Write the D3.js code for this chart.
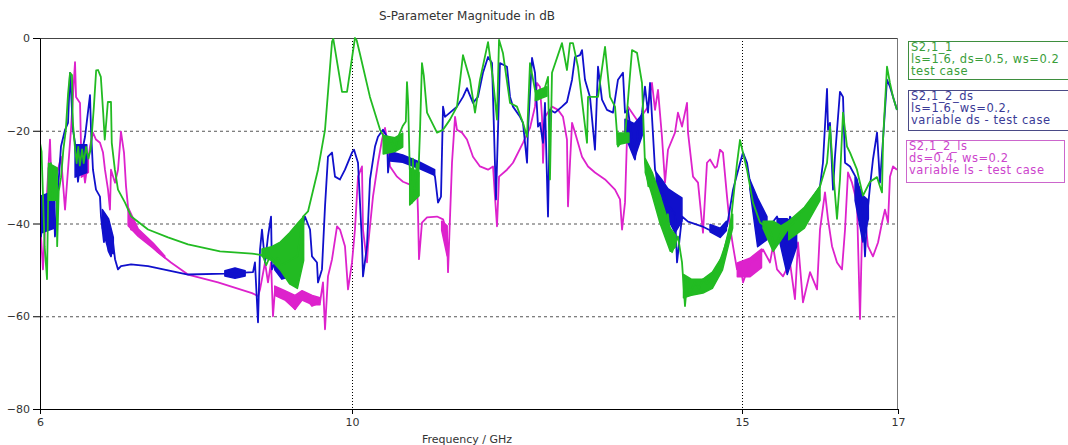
<!DOCTYPE html>
<html><head><meta charset="utf-8">
<script src="https://cdn.jsdelivr.net/npm/d3@7"></script>
<style>html,body{margin:0;padding:0;background:#fff}svg{display:block}</style>
</head><body>
<svg id="chart" width="1068" height="445"></svg>
<script>
const xTicks = [6, 10, 15, 17];
const yTicks = [0, -20, -40, -60, -80];
const xGrid = [10, 15];
const yGrid = [-20, -40, -60];
const seriesNames = ["S2,1_1", "S2,1_2_ds", "S2,1_2_ls"];

// S2,1_1 : [GHz, dB]
const s211 = [[6.00,-22.6],[6.02,-24.5],[6.04,-35],[6.06,-45],[6.09,-52.0],[6.10,-40],[6.11,-28],[6.13,-34],[6.14,-27],[6.16,-35],[6.18,-28],[6.19,-34],[6.21,-29],[6.22,-44.9],[6.24,-33],[6.27,-30],[6.30,-24],[6.33,-20],[6.36,-12],[6.385,-7.5],[6.41,-8],[6.42,-18],[6.45,-24],[6.47,-27],[6.49,-23.5],[6.51,-27.5],[6.54,-24],[6.56,-27],[6.59,-23.5],[6.62,-26],[6.65,-24],[6.69,-15],[6.72,-7],[6.744,-6.9],[6.78,-8.4],[6.81,-16.1],[6.83,-21.9],[6.85,-18],[6.87,-13.8],[6.91,-13.8],[6.92,-22.6],[6.96,-28.4],[7.00,-32.7],[7.09,-35.5],[7.17,-38.5],[7.385,-41.3],[7.641,-43.0],[7.897,-44.5],[8.308,-46.0],[8.718,-46.5],[8.846,-46.8],[8.87,-47.5],[8.90,-49],[8.95,-47],[9.0,-48],[9.05,-47.5],[9.1,-49],[9.2,-48],[9.3,-47],[9.372,-38.5],[9.436,-37.4],[9.564,-28.4],[9.654,-19.8],[9.744,-0.8],[9.76,-0.2],[9.872,-11.6],[9.936,-11.6],[10.038,0],[10.06,-0.5],[10.10,-3.3],[10.23,-12.7],[10.36,-19.8],[10.40,-21],[10.45,-23],[10.50,-22],[10.55,-24],[10.60,-21],[10.65,-19],[10.69,-18],[10.705,-9.5],[10.72,-14],[10.74,-28],[10.769,-35.5],[10.78,-26],[10.80,-33],[10.83,-27],[10.85,-30],[10.872,-20],[10.897,-5.4],[10.92,-8],[10.962,-16.1],[11.09,-20.4],[11.167,-19.8],[11.256,-17.6],[11.346,-14.8],[11.423,-3.7],[11.513,-9.0],[11.577,-16.1],[11.641,-9.0],[11.744,-0.9],[11.808,-9.0],[11.859,-17.6],[11.885,-0.4],[11.936,-3.3],[12.026,-14.0],[12.115,-14.8],[12.192,-18.3],[12.244,-21.3],[12.282,-5.4],[12.346,-11.2],[12.385,-13.3],[12.45,-12],[12.513,-8.4],[12.538,-30.5],[12.564,-7.5],[12.692,-1.1],[12.756,-6.9],[12.795,-1.1],[12.833,-1.1],[12.897,-6.2],[13.013,-22.6],[13.026,-12.7],[13.154,-12.7],[13.244,-1.9],[13.308,-12.7],[13.372,-14.8],[13.410,-23.4],[13.500,-21.3],[13.590,-2.6],[13.654,-3.2],[13.718,-9.7],[13.756,-26.9],[13.80,-32],[13.85,-30],[13.90,-36],[13.95,-34],[14.00,-40],[14.05,-38],[14.103,-46.2],[14.179,-42.8],[14.231,-48.4],[14.269,-57.8],[14.30,-52],[14.33,-55],[14.397,-52.7],[14.45,-54],[14.50,-52],[14.55,-53],[14.654,-50.5],[14.72,-48],[14.78,-45],[14.846,-41.3],[14.936,-27],[14.974,-22],[15.064,-28.4],[15.141,-35.5],[15.231,-39.8],[15.359,-41.3],[15.42,-45],[15.5,-42],[15.615,-40.6],[15.7,-39],[15.8,-37],[16.0,-32],[16.09,-26.9],[16.128,-19.1],[16.167,-28.4],[16.218,-39],[16.256,-30.5],[16.295,-16.1],[16.346,-23.4],[16.385,-24.7],[16.474,-28.4],[16.551,-34],[16.641,-31],[16.731,-30],[16.769,-32],[16.795,-33.3],[16.808,-22],[16.859,-6.2],[16.897,-9.7],[16.936,-12.7],[16.987,-15.5]];

// S2,1_2_ds : [GHz, dB]
const s212ds = [[6.000,-41.3],[6.013,-42.8],[6.04,-38],[6.077,-41.3],[6.10,-34],[6.141,-37],[6.17,-33],[6.192,-42.8],[6.231,-32.7],[6.269,-23.4],[6.321,-19.8],[6.359,-18.3],[6.385,-7.5],[6.397,-11.2],[6.423,-19.8],[6.449,-22.6],[6.487,-31.0],[6.526,-25.6],[6.577,-21.3],[6.641,-12.3],[6.654,-19.8],[6.679,-28.4],[6.718,-32.7],[6.769,-34.2],[6.782,-38.5],[6.82,-44],[6.85,-40],[6.88,-46],[6.910,-47.1],[6.936,-44],[6.962,-47.7],[7.000,-49.9],[7.038,-49.2],[7.167,-48.8],[7.385,-49.2],[7.897,-51.0],[8.372,-50.8],[8.731,-50.5],[8.756,-48.4],[8.795,-61.3],[8.821,-45.6],[8.846,-41.3],[8.885,-48.4],[8.923,-42.8],[8.962,-38.5],[8.974,-49.9],[9.013,-48.4],[9.141,-50],[9.269,-49.9],[9.333,-42.8],[9.397,-38.5],[9.462,-41.3],[9.487,-47.1],[9.551,-48.4],[9.564,-52.7],[9.615,-49.9],[9.654,-36.3],[9.692,-25.6],[9.744,-24.7],[9.782,-29.9],[9.846,-30.5],[9.910,-28.4],[10.000,-24.7],[10.026,-24.1],[10.077,-26.9],[10.128,-44.1],[10.141,-51.4],[10.192,-44.9],[10.231,-30.5],[10.295,-23.4],[10.333,-21.3],[10.397,-19.8],[10.449,-21.3],[10.462,-29.0],[10.487,-24.7],[10.654,-26.2],[10.872,-27.7],[11.026,-28.4],[11.064,-29.9],[11.103,-35.5],[11.141,-34.2],[11.167,-14.8],[11.192,-17.0],[11.256,-16.1],[11.346,-14.8],[11.423,-12.7],[11.474,-10.8],[11.551,-14.0],[11.615,-12.7],[11.679,-7.5],[11.744,-4.1],[11.795,-5.4],[11.808,-12.7],[11.846,-34.8],[11.897,-5.4],[11.987,-6.2],[12.026,-12.7],[12.064,-14.8],[12.154,-17.0],[12.192,-18.3],[12.244,-26.9],[12.256,-19.8],[12.308,-4.3],[12.346,-7.5],[12.385,-19.1],[12.410,-18.3],[12.449,-22.6],[12.474,-14.0],[12.513,-38.5],[12.538,-15.5],[12.603,-16.1],[12.692,-14.8],[12.756,-13.8],[12.821,-9.0],[12.859,-4.1],[12.923,-3.7],[12.949,-2.6],[12.987,-9.0],[13.051,-12.7],[13.115,-24.1],[13.154,-6.2],[13.205,-13.3],[13.269,-15.5],[13.346,-16.1],[13.410,-9.0],[13.474,-7.5],[13.500,-16.1],[13.538,-15.5],[13.628,-26.2],[13.667,-19.8],[13.718,-16.1],[13.756,-10.5],[13.795,-16.1],[13.821,-9.7],[13.885,-28.4],[13.974,-33],[14.051,-36],[14.141,-38],[14.167,-48.4],[14.231,-38.5],[14.308,-39.6],[14.487,-40.6],[14.654,-42.0],[14.718,-42.0],[14.808,-40.6],[14.885,-32.7],[14.974,-27.0],[15.013,-24.7],[15.064,-26.9],[15.103,-31.2],[15.231,-40],[15.321,-41.3],[15.449,-38.5],[15.577,-45],[15.615,-38.5],[15.705,-41.3],[15.872,-35.5],[16.000,-32.0],[16.038,-26.9],[16.090,-11.0],[16.103,-19.8],[16.128,-18.3],[16.167,-32.7],[16.192,-25.6],[16.256,-11.6],[16.295,-12.7],[16.321,-26.9],[16.385,-27.7],[16.474,-30.5],[16.551,-37.6],[16.577,-47.1],[16.603,-38.5],[16.641,-32.0],[16.679,-26.2],[16.731,-20.4],[16.769,-31.2],[16.808,-21.9],[16.859,-9.0],[16.897,-10.5],[16.987,-15.5]];

// S2,1_2_ls : [GHz, dB]
const s212ls = [[6.000,-40],[6.013,-42.8],[6.038,-49.9],[6.064,-41.3],[6.128,-21.9],[6.141,-28.4],[6.167,-35.5],[6.205,-29.9],[6.231,-28.4],[6.269,-25.6],[6.321,-37.0],[6.359,-28.4],[6.397,-19.8],[6.449,-5.2],[6.462,-12.7],[6.513,-14.0],[6.526,-23.4],[6.577,-31.2],[6.641,-23.4],[6.679,-20.4],[6.718,-21.9],[6.769,-22.6],[6.808,-24.7],[6.833,-28.4],[6.872,-32.7],[6.897,-37.0],[6.910,-28.4],[6.962,-31.2],[7.000,-28.4],[7.038,-20.2],[7.077,-24.7],[7.103,-32.0],[7.128,-36.3],[7.167,-41.3],[7.256,-42],[7.385,-44],[7.513,-46.2],[7.679,-48.4],[7.897,-51.0],[8.282,-52.7],[8.718,-55.0],[8.756,-55.3],[8.795,-55.7],[8.821,-54.2],[8.885,-48.4],[8.923,-52.7],[8.962,-48.4],[8.987,-60.0],[9.013,-54.2],[9.14,-55.6],[9.269,-58.5],[9.359,-54.8],[9.487,-57.8],[9.590,-57.0],[9.628,-52.7],[9.654,-62.8],[9.692,-51.4],[9.744,-47.7],[9.808,-40.6],[9.846,-41.3],[9.910,-44.9],[9.949,-54.2],[10.000,-48.4],[10.038,-41.3],[10.077,-29.9],[10.128,-27.7],[10.141,-41.3],[10.192,-48.4],[10.205,-44.9],[10.269,-34.2],[10.333,-26.9],[10.385,-21.9],[10.423,-19.4],[10.449,-21.9],[10.487,-27.7],[10.577,-29.9],[10.654,-31.0],[10.744,-31.6],[10.833,-31.2],[10.846,-37.6],[10.859,-47.7],[10.897,-39.8],[10.962,-38.7],[11.090,-38.5],[11.167,-39.1],[11.218,-41.9],[11.231,-50.5],[11.282,-26.9],[11.321,-17.0],[11.346,-19.8],[11.410,-20.4],[11.474,-21.9],[11.551,-25.6],[11.641,-27.7],[11.744,-28.4],[11.808,-27.7],[11.833,-34.2],[11.859,-40.6],[11.885,-29.9],[11.987,-28.4],[12.064,-26.9],[12.192,-22.6],[12.282,-19.4],[12.346,-14.8],[12.372,-9.7],[12.410,-10.5],[12.436,-17.0],[12.449,-26.9],[12.474,-17.0],[12.564,-14.8],[12.641,-15.5],[12.705,-17.0],[12.756,-21.9],[12.769,-36.3],[12.795,-26.9],[12.821,-18.3],[12.859,-20.4],[12.949,-25.6],[13.026,-27.7],[13.115,-29.0],[13.244,-30.5],[13.372,-32.7],[13.436,-34.8],[13.462,-41.3],[13.500,-35.5],[13.538,-14.8],[13.590,-16.1],[13.667,-18.0],[13.795,-14.8],[13.846,-9.7],[13.885,-15.5],[13.923,-11.2],[13.974,-21.3],[14.013,-31.2],[14.051,-24.1],[14.141,-20.4],[14.179,-16.1],[14.231,-19.1],[14.295,-14.0],[14.308,-20.4],[14.372,-29.9],[14.436,-31.2],[14.500,-42.0],[14.551,-26.9],[14.590,-26.2],[14.654,-28.0],[14.679,-27.7],[14.718,-24.1],[14.756,-24.7],[14.808,-34.2],[14.846,-40.6],[14.885,-44.9],[14.936,-49.9],[14.974,-48.4],[15.013,-52.7],[15.103,-48.4],[15.192,-47.7],[15.269,-45.6],[15.359,-48.4],[15.397,-44.9],[15.449,-49.9],[15.526,-51.4],[15.615,-48.4],[15.679,-56.3],[15.718,-44.1],[15.782,-57.0],[15.872,-50.5],[15.962,-54.2],[16.000,-41.3],[16.064,-33.3],[16.103,-39.1],[16.154,-44.9],[16.218,-48.4],[16.282,-49.9],[16.321,-41.3],[16.359,-29.0],[16.410,-31.2],[16.474,-35.5],[16.513,-60.6],[16.538,-42.8],[16.577,-38.5],[16.615,-44.9],[16.679,-47.1],[16.744,-44.1],[16.795,-39.8],[16.833,-37.0],[16.872,-39.8],[16.897,-29.9],[16.936,-27.7],[16.987,-28.4]];

// dense-oscillation envelopes: [GHz, low dB, high dB]
const s211Bands = [
  [[6.11,-35,-27],[6.22,-35,-28]],
  [[8.846,-47,-45.5],[8.97,-48,-45],[9.08,-50,-44],[9.2,-53,-42],[9.30,-54,-40],[9.38,-48,-38.5]],
  [[10.40,-25,-21],[10.55,-24.5,-21.5],[10.65,-23.5,-20.5]],
  [[10.74,-36,-28],[10.86,-34,-29]],
  [[12.35,-13.5,-11.5],[12.5,-12.5,-10.5]],
  [[13.4,-23,-20.5],[13.55,-22.5,-20.5]],
  [[13.76,-29,-26],[13.85,-34,-29],[13.95,-40,-34],[14.08,-46,-41],[14.15,-45,-42.5]],
  [[14.25,-56,-51],[14.35,-55.5,-52],[14.5,-55,-52],[14.62,-54,-50.5],[14.75,-50,-47],[14.88,-41,-38]],
  [[15.27,-41,-39.5],[15.4,-46,-39.5],[15.5,-43.5,-40.5],[15.6,-41,-39.5]],
  [[15.6,-43.5,-39.5],[15.8,-41,-36.5],[16.0,-35,-32]]
];
const s212dsBands = [
  [[6.02,-42,-34],[6.19,-41,-33]],
  [[6.45,-30,-23],[6.6,-29,-23]],
  [[6.80,-41,-37],[6.88,-46,-39],[6.94,-46.5,-43]],
  [[8.37,-51.3,-50.2],[8.5,-51.8,-49.6],[8.63,-51.3,-50.2]],
  [[9.01,-50,-47.5],[9.1,-52,-47.5],[9.2,-51.5,-48.5],[9.27,-50.5,-49]],
  [[10.49,-26.5,-24.5],[10.65,-26.8,-25.2],[10.87,-28.2,-26.8],[11.06,-29.6,-28.4]],
  [[13.5,-21,-17.5],[13.62,-26,-18.5],[13.72,-21,-16.5]],
  [[13.9,-33,-29],[13.97,-36,-30.5],[14.05,-39,-32.5],[14.14,-42,-33.5],[14.23,-39.5,-34.5]],
  [[14.59,-41.8,-40.2],[14.72,-43,-41],[14.8,-41.5,-39.5]],
  [[15.1,-32.5,-30.5],[15.2,-45,-34.5],[15.32,-43.5,-38.5]],
  [[15.45,-41.5,-39],[15.58,-51,-39],[15.7,-45,-40.5]],
  [[16.45,-35,-30],[16.55,-44,-34],[16.62,-39,-35]]
];
const s212lsBands = [
  [[6.53,-30,-24],[6.62,-29,-25]],
  [[7.13,-40.5,-36.5],[7.26,-42.8,-41.2],[7.45,-45.3,-44.2],[7.6,-47.4,-47]],
  [[9.01,-55.5,-53.5],[9.14,-56.5,-54.5],[9.27,-58.5,-55.5],[9.36,-56.5,-54.5],[9.49,-57.5,-55.5],[9.59,-57.5,-56]],
  [[11.15,-41.5,-39.5],[11.22,-47,-40.5]],
  [[14.94,-51.5,-48.5],[15.1,-51.5,-47.5],[15.25,-49.5,-45.5]]
];

const colors = {g:"#22bb22", b:"#1010cc", m:"#dd22cc"};

const svg = d3.select("#chart");
const L=40, R=898, T=38, B=409;
const x = d3.scaleLinear().domain([6,17]).range([L,R]);
const y = d3.scaleLinear().domain([-80,0]).range([B,T]);

svg.append("text").attr("x",467).attr("y",20).attr("text-anchor","middle")
  .attr("font-family","DejaVu Sans").attr("font-size",12).attr("fill","#333")
  .text("S-Parameter Magnitude in dB");

svg.append("defs").append("clipPath").attr("id","clip")
  .append("rect").attr("x",L).attr("y",T-1).attr("width",R-L).attr("height",B-T+1);

// grid
svg.selectAll(".hg").data(yGrid).join("line")
  .attr("x1",L).attr("x2",R).attr("y1",d=>y(d)+0.5).attr("y2",d=>y(d)+0.5)
  .attr("stroke","#555").attr("stroke-dasharray","3,3");
svg.selectAll(".vg").data(xGrid).join("line")
  .attr("y1",T).attr("y2",B).attr("x1",d=>Math.round(x(d))+0.5).attr("x2",d=>Math.round(x(d))+0.5)
  .attr("stroke","#000").attr("stroke-dasharray","1,2");

// frame top/right
svg.append("line").attr("x1",L).attr("x2",R).attr("y1",T+0.5).attr("y2",T+0.5).attr("stroke","#444");
svg.append("line").attr("x1",R-0.5).attr("x2",R-0.5).attr("y1",T).attr("y2",B).attr("stroke","#777");

const g = svg.append("g").attr("clip-path","url(#clip)");
const line = d3.line().x(d=>x(d[0])).y(d=>y(d[1]));
const area = d3.area().x(d=>x(d[0])).y0(d=>y(d[1])).y1(d=>y(d[2]));

function drawSeries(data, bands, col){
  bands.forEach(b=>g.append("path").attr("d",area(b)).attr("fill",col).attr("stroke",col).attr("stroke-width",1.5).attr("stroke-linejoin","round"));
  g.append("path").attr("d",line(data)).attr("fill","none").attr("stroke",col)
   .attr("stroke-width",1.8).attr("stroke-linejoin","round");
}
drawSeries(s212ls, s212lsBands, colors.m);
drawSeries(s212ds, s212dsBands, colors.b);
drawSeries(s211, s211Bands, colors.g);

// axes
const ax = svg.append("g").attr("transform",`translate(${L},0)`)
  .call(d3.axisLeft(y).tickValues(yTicks).tickSize(7).tickSizeOuter(0).tickPadding(3));
ax.select(".domain").attr("stroke","#000");
ax.selectAll("text").attr("font-family","DejaVu Sans").attr("font-size",11).attr("fill","#333");
const bx = svg.append("g").attr("transform",`translate(0,${B})`)
  .call(d3.axisBottom(x).tickValues(xTicks).tickSize(5).tickSizeOuter(0).tickPadding(4));
bx.select(".domain").attr("stroke","#000");
bx.selectAll("text").attr("font-family","DejaVu Sans").attr("font-size",11).attr("fill","#333");

svg.append("text").attr("x",467).attr("y",443).attr("text-anchor","middle")
  .attr("font-family","DejaVu Sans").attr("font-size",11).attr("fill","#333")
  .text("Frequency / GHz");

// legend
const legends = [
  {name:seriesNames[0], lines:["ls=1.6, ds=0.5, ws=0.2","test case"], x:908, y:41, h:38, stroke:"#3e8e3e", fill:"#3a9e3a"},
  {name:seriesNames[1], lines:["ls=1.6, ws=0.2,","variable ds - test case"], x:908, y:90, h:40, stroke:"#4a4a86", fill:"#3a3a96"},
  {name:seriesNames[2], lines:["ds=0.4, ws=0.2","variable ls - test case"], x:906, y:140, h:42, stroke:"#cc66cc", fill:"#cc44cc"}
];
legends.forEach((l,i)=>{
  svg.append("rect").attr("x",l.x+0.5).attr("y",l.y+0.5).attr("width", i==2?158:200).attr("height",l.h)
    .attr("fill","#fff").attr("stroke",l.stroke).attr("stroke-width",1);
  [l.name].concat(l.lines).forEach((s,j)=>{
    svg.append("text").attr("font-family","DejaVu Sans").attr("font-size",11.5)
      .attr("letter-spacing","0.55px").attr("fill",l.fill)
      .attr("x",l.x+3).attr("y",l.y+10+j*12).text(s);
  });
});
</script>
</body></html>
